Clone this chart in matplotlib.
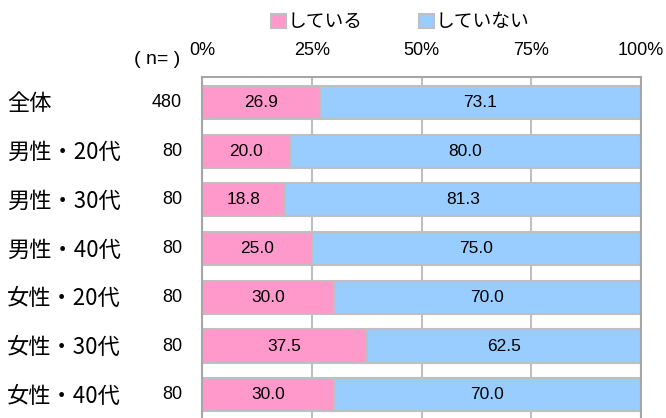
import numpy as np
import matplotlib
matplotlib.use('Agg')
import matplotlib.pyplot as plt
from matplotlib.patches import Patch
from matplotlib import transforms

plt.rcParams['font.family'] = ['Liberation Sans', 'Noto Sans CJK JP', 'DejaVu Sans']

#===============================================================================
###  Data
#===============================================================================
categories = ['全体', '男性・20代', '男性・30代', '男性・40代',
              '女性・20代', '女性・30代', '女性・40代']
n_values = [480, 80, 80, 80, 80, 80, 80]
doing = [26.9, 20.0, 18.8, 25.0, 30.0, 37.5, 30.0]
not_doing = [73.1, 80.0, 81.3, 75.0, 70.0, 62.5, 70.0]
series_names = ['している', 'していない']
xticks = [0, 25, 50, 75, 100]
xtick_labels = ['0%', '25%', '50%', '75%', '100%']

pink = '#FF99CC'
blue = '#99CCFF'
edge = '#BFBFBF'
narrow = ['Liberation Sans Narrow', 'Liberation Sans']
cjk = ['Noto Sans CJK JP', 'DejaVu Sans']

#===============================================================================
###  Plot
#===============================================================================
W, H = 666, 418
fig = plt.figure(figsize=(W / 100, H / 100), dpi=100)
pitch = 48.7
top_px = 77
ymin, ymax = -0.524, 6.524
ax_h = (ymax - ymin) * pitch
ax = fig.add_axes([202 / W, (H - top_px - ax_h) / H, 439 / W, ax_h / H])

y = np.arange(len(categories))
ax.barh(y, doing, height=0.68, color=pink, edgecolor=edge, linewidth=1.5, zorder=2)
ax.barh(y, not_doing, left=doing, height=0.68, color=blue, edgecolor=edge,
        linewidth=1.5, zorder=2)

for i in range(len(categories)):
    ax.text(doing[i] / 2, y[i], '%.1f' % doing[i], ha='center', va='center',
            fontsize=12.5, zorder=3)
    ax.text(doing[i] + not_doing[i] / 2, y[i], '%.1f' % not_doing[i],
            ha='center', va='center', fontsize=12.5, zorder=3)

ax.set_xlim(0, 100)
ax.set_ylim(ymax, ymin)
ax.set_yticks([])
ax.xaxis.tick_top()
ax.set_xticks(xticks)
ax.set_xticklabels(xtick_labels, fontsize=13, family=narrow)
ax.tick_params(axis='x', length=0, pad=13)
ax.grid(axis='x', color=edge, linewidth=1.5, zorder=0)
ax.set_axisbelow(True)
for s in ax.spines.values():
    s.set_color('#A6A6A6')
    s.set_linewidth(1.5)

# category labels and n column
trans = transforms.blended_transform_factory(fig.transFigure, ax.transData)
for i in range(len(categories)):
    ax.text(7 / W, y[i] + 0.03, categories[i], transform=trans, ha='left', va='center',
            fontsize=16, family=cjk)
    ax.text(182 / W, y[i], str(n_values[i]), transform=trans, ha='right', va='center',
            fontsize=13)
fig.text(157 / W, 1 - 59 / H, '( n= )', ha='center', va='center', fontsize=14,
         family=narrow)

handles = [Patch(facecolor=pink, edgecolor=edge, linewidth=1.5),
           Patch(facecolor=blue, edgecolor=edge, linewidth=1.5)]
fig.legend(handles, series_names, loc='center', bbox_to_anchor=(400 / W, 1 - 22 / H),
           ncol=2, frameon=False, handlelength=0.8, handleheight=0.8,
           handletextpad=0.1, columnspacing=3.0, borderpad=0,
           prop={'family': cjk, 'size': 13.5})

fig.savefig('out.png', dpi=100)
